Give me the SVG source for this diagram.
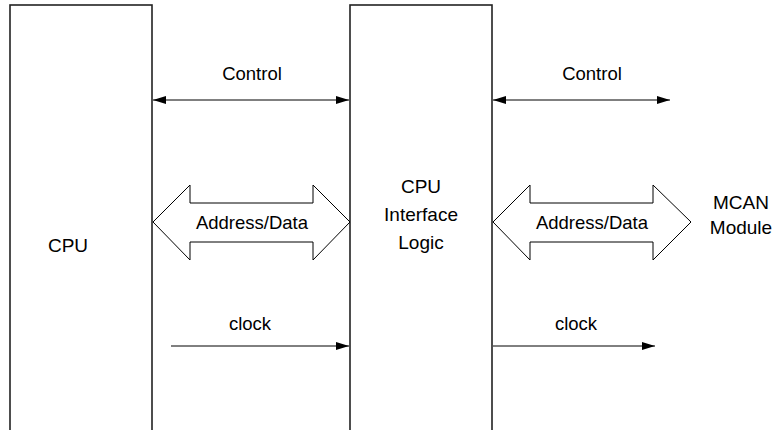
<svg xmlns="http://www.w3.org/2000/svg" width="779" height="430" viewBox="0 0 779 430">
<defs>
<marker id="ah" markerWidth="14" markerHeight="10" refX="13" refY="5" orient="auto-start-reverse" markerUnits="userSpaceOnUse">
<path d="M0,1 L13,5 L0,9 Z" fill="#000"/>
</marker>
</defs>
<style>
.blk{fill:#fff;stroke:#222;stroke-width:1.6}
.t{font-family:"Liberation Sans",Arial,sans-serif;font-size:18.5px;fill:#000;text-anchor:middle}
.tb{font-family:"Liberation Sans",Arial,sans-serif;font-size:19px;fill:#000;text-anchor:middle}
.ln{stroke:#000;stroke-width:1;fill:none}
.big{fill:#fff;stroke:#000;stroke-width:1}
</style>
<rect width="779" height="430" fill="#fff"/>
<g id="cpu">
<rect class="blk" x="10" y="5" width="142" height="440"/>
<text class="tb" x="68" y="252">CPU</text>
</g>
<g id="logic">
<rect class="blk" x="350" y="5" width="142" height="440"/>
<text class="tb" x="421" y="193">CPU</text>
<text class="tb" x="421" y="221">Interface</text>
<text class="tb" x="421" y="249">Logic</text>
</g>
<g id="mcan">
<text class="tb" x="741" y="209">MCAN</text>
<text class="tb" x="741" y="234">Module</text>
</g>
<g id="connectors">
<line class="ln" x1="153" y1="100" x2="349" y2="100" marker-start="url(#ah)" marker-end="url(#ah)"/>
<text class="t" x="252" y="80">Control</text>
<line class="ln" x1="493" y1="100" x2="670" y2="100" marker-start="url(#ah)" marker-end="url(#ah)"/>
<text class="t" x="592" y="80">Control</text>
<path class="big" d="M153,222 L190,185 L190,203 L313,203 L313,185 L350,222 L313,260 L313,242 L190,242 L190,260 Z"/>
<text class="t" x="252" y="229">Address/Data</text>
<path class="big" d="M493,222 L530,185 L530,203 L653,203 L653,185 L691,222 L653,260 L653,242 L530,242 L530,260 Z"/>
<text class="t" x="592" y="229">Address/Data</text>
<line class="ln" x1="171" y1="346" x2="349" y2="346" marker-end="url(#ah)"/>
<text class="t" x="250" y="330">clock</text>
<line class="ln" x1="493" y1="346" x2="655" y2="346" marker-end="url(#ah)"/>
<text class="t" x="576" y="330">clock</text>
</g>
</svg>
